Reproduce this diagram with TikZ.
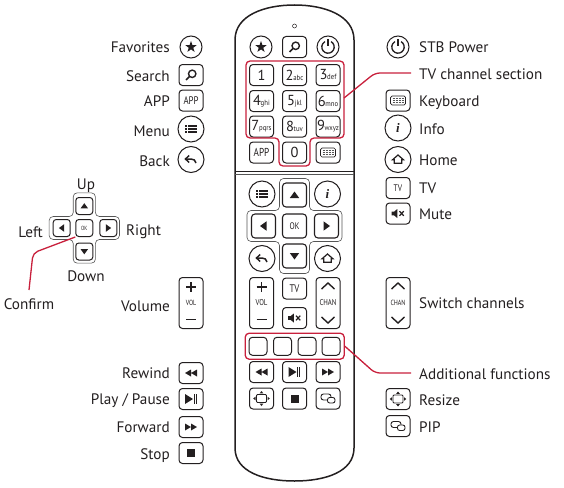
\documentclass[tikz,border=0pt]{standalone}
\usepackage{graphicx}
\usepackage{fontspec}
\setmainfont{PT Sans}
\newfontfamily\infofont{Liberation Serif}
\usepackage{tikz}
\usetikzlibrary{positioning}

\definecolor{keyline}{HTML}{231F20}
\definecolor{padline}{HTML}{555555}
\definecolor{markred}{HTML}{C8203C}

\newcommand{\keylabel}[2]{\fontsize{#1}{#1}\selectfont\scalebox{.8}[1]{#2}}
\newcommand{\keydigit}[2]{{\fontsize{14.5}{14}\selectfont #1}\kern-.3pt{\fontsize{7.5}{7}\selectfont\scalebox{.9}[1]{#2}}}

\tikzset{
  key/.style={draw=keyline, line width=1pt, rounded corners=3.5pt, minimum width=24pt, minimum height=21pt, inner sep=0pt, text=keyline},
  tallkey/.style={key, minimum height=51pt},
  padkey/.style={key, line width=1.1pt, minimum height=24pt},
  minikey/.style={key, minimum width=17pt, minimum height=17pt, rounded corners=3pt},
  blankkey/.style={key, minimum width=18pt, minimum height=18pt},
  smallcirc/.style={draw=keyline, line width=1pt, circle, minimum size=22pt, inner sep=0pt, text=keyline},
  bigcirc/.style={smallcirc, minimum size=26pt},
  lefttext/.style={anchor=east, inner sep=0pt, text=keyline, font=\fontsize{15.2}{15}\selectfont, text height=10pt, text depth=3pt},
  righttext/.style={lefttext, anchor=west},
  redline/.style={draw=markred, line width=1.3pt},
  redbox/.style={redline, rounded corners=4pt, minimum width=99pt, minimum height=26pt},
  glyph/.style={fill=keyline, draw=none},
  stroke/.style={draw=keyline, line width=1.1pt},
  pics/staricon/.style={code={\fill[glyph] (0,-6) -- (1.41,-1.94) -- (5.7,-1.85) -- (2.28,.74) -- (3.53,4.85) -- (0,2.4) -- (-3.53,4.85) -- (-2.28,.74) -- (-5.7,-1.85) -- (-1.41,-1.94) -- cycle;}},
  pics/searchicon/.style={code={
    \draw[stroke, line width=1.4pt] (1.2,-1.2) circle (3.7);
    \draw[stroke, line width=1.7pt] (-1.5,1.5) -- (-5,5);}},
  pics/powericon/.style={code={
    \draw[stroke, line width=1.3pt] (3.1,-5.37) arc[start angle=-60, end angle=240, radius=6.2];
    \draw[stroke, line width=1.3pt] (0,-7.5) -- (0,-.5);}},
  pics/kbicon/.style={code={
    \draw[stroke, line width=.7pt, rounded corners=1.5pt] (-7.5,-4.5) rectangle (7.5,4.5);
    \foreach \yy in {-2.2,0,2.2}
      \draw[padline, line width=1.2pt, dash pattern=on 1pt off .5pt] (-5.5,\yy) -- (5.5,\yy);}},
  pics/menuicon/.style={code={
    \foreach \yy in {-3.2,0,3.2} {
      \draw[stroke, line width=1.6pt] (-6,\yy) -- (-4.4,\yy);
      \draw[stroke, line width=1.6pt] (-3,\yy) -- (6,\yy);}}},
  pics/homeicon/.style={code={\draw[stroke, line width=1.2pt, line join=miter] (-5.5,.3) -- (0,-4.5) -- (5.5,.3) -- (3.7,.3) -- (3.7,3.8) -- (-3.7,3.8) -- (-3.7,.3) -- cycle;}},
  pics/backicon/.style={code={
    \draw[stroke, line width=1.5pt] (-5.5,-.5) -- (0,-.5) .. controls (2.8,-.5) and (4.5,.8) .. (5,3.5);
    \draw[stroke, line width=1.5pt] (-1.8,-4) -- (-5.5,-.5) -- (-1.8,3);}},
  pics/upicon/.style={code={\fill[glyph] (-4.7,3) -- (4.7,3) -- (0,-3.5) -- cycle;}},
  pics/downicon/.style={code={\fill[glyph] (-4.7,-3) -- (4.7,-3) -- (0,3.5) -- cycle;}},
  pics/lefticon/.style={code={\fill[glyph] (3,-4.7) -- (3,4.7) -- (-3.5,0) -- cycle;}},
  pics/righticon/.style={code={\fill[glyph] (-3,-4.7) -- (-3,4.7) -- (3.5,0) -- cycle;}},
  pics/muteicon/.style={code={
    \fill[glyph] (-6.5,-1.8) -- (-4,-1.8) -- (-.7,-4.5) -- (-.7,4.5) -- (-4,1.8) -- (-6.5,1.8) -- cycle;
    \draw[stroke, line width=1.2pt] (1.5,-2.3) -- (5.8,2.3) (1.5,2.3) -- (5.8,-2.3);}},
  pics/volicon/.style={code={
    \draw[stroke, line width=1.4pt] (-5,-16) -- (5,-16) (0,-21) -- (0,-11);
    \draw[stroke, line width=1.4pt] (-5,16.5) -- (5,16.5);}},
  pics/chanicon/.style={code={
    \draw[stroke, line width=1.4pt] (-6.5,-14) -- (0,-20) -- (6.5,-14);
    \draw[stroke, line width=1.4pt] (-6.5,14) -- (0,20) -- (6.5,14);}},
  pics/rewindicon/.style={code={\fill[glyph] (0,-3.5) -- (0,3.5) -- (-6,0) -- cycle (6,-3.5) -- (6,3.5) -- (0,0) -- cycle;}},
  pics/forwardicon/.style={code={\fill[glyph] (0,-3.5) -- (0,3.5) -- (6,0) -- cycle (-6,-3.5) -- (-6,3.5) -- (0,0) -- cycle;}},
  pics/playicon/.style={code={
    \fill[glyph] (-6,-5) -- (-6,5) -- (2,0) -- cycle;
    \draw[stroke, line width=.8pt] (3,-5) -- (3,5) (5.2,-5) -- (5.2,5);}},
  pics/stopicon/.style={code={\fill[glyph] (-4,-4) rectangle (4,4);}},
  pics/resizeicon/.style={code={
    \draw[stroke, line width=.8pt, rounded corners=1pt] (-5,-4) rectangle (5,4);
    \fill[glyph] (-1.8,-5.2) -- (1.8,-5.2) -- (0,-7.5) -- cycle (-1.8,5.2) -- (1.8,5.2) -- (0,7.5) -- cycle;
    \fill[glyph] (-6,-1.8) -- (-6,1.8) -- (-8.3,0) -- cycle (6,-1.8) -- (6,1.8) -- (8.3,0) -- cycle;}},
  pics/pipicon/.style={code={
    \draw[stroke, line width=.9pt, rounded corners=2.5pt] (-7,-4.5) rectangle (3,1.5);
    \draw[stroke, line width=.9pt, rounded corners=2.2pt, fill=white] (-.5,-1) rectangle (7,4.5);}},
  pics/crossline/.style={code={
    \draw[padline, line width=.6pt, rounded corners=4pt] (0,-47.5) -- (15,-47.5) -- (15,-15.5) -- (47.5,-15.5) -- (47.5,15.5) -- (15,15.5) -- (15,47.5) -- (-15,47.5) -- (-15,15.5) -- (-47.5,15.5) -- (-47.5,-15.5) -- (-15,-15.5) -- (-15,-47.5) -- cycle;}}
}

\begin{document}
\begin{tikzpicture}[x=1pt, y=-1pt]
  \useasboundingbox (0,0) rectangle (564,487);

  \draw[keyline, line width=1.5pt] (235,40) .. controls (235,15) and (265,5) .. (294.5,5)
    .. controls (324,5) and (354,15) .. (354,40) -- (354,448)
    .. controls (354,472) and (325,481) .. (294.5,481)
    .. controls (264,481) and (235,472) .. (235,448) -- cycle;
  \draw[keyline, line width=.5pt] (294.5,26) circle (2);
  \draw[keyline, line width=.8pt] (235,171) -- (354,171);
  \draw[padline, line width=.6pt] (235,174.5) -- (354,174.5);
  \pic at (294.5,226) {crossline};
  \pic[scale=.74] at (84.3,228) {crossline};

  \foreach \st/\nm/\xx/\yy/\ic in {
    smallcirc/favkey/191/47/staricon, key/searchkey/191/75/searchicon,
    bigcirc/menukey/191/129/menuicon, bigcirc/backkey/191/159.5/backicon,
    key/rewindkey/191/373/rewindicon, key/playkey/191/399/playicon,
    key/forwardkey/191/427/forwardicon, key/stopkey/191/453/stopicon,
    smallcirc/powerkey/398/47/powericon, key/kbkey/398/100.5/kbicon,
    bigcirc/homekey/398/159.5/homeicon, key/mutekey/398/213.5/muteicon,
    key/resizekey/398/399/resizeicon, key/pipkey/398/426/pipicon,
    smallcirc/favbody/261/47/staricon, key/searchbody/294.5/47/searchicon,
    smallcirc/powerbody/328/47/powericon, key/kbbody/328/152.5/kbicon,
    bigcirc/menubody/262/194/menuicon, bigcirc/backbody/262/258.5/backicon,
    bigcirc/homebody/327.5/258.5/homeicon,
    padkey/upbody/294.5/195/upicon, padkey/downbody/294.5/256/downicon,
    padkey/leftbody/263.5/226/lefticon, padkey/rightbody/326.5/226/righticon,
    key/mutebody/294.5/318/muteicon,
    key/rewindbody/261.5/372/rewindicon, key/playbody/294.5/372/playicon,
    key/forwardbody/328/372/forwardicon, key/resizebody/261.5/398.5/resizeicon,
    key/stopbody/294.5/398.5/stopicon, key/pipbody/328/398.5/pipicon} {
    \node[\st] (\nm) at (\xx,\yy) {};
    \pic at (\nm) {\ic};
  }

  \foreach \nm/\xx/\yy/\ic in {upmini/84.3/206/upicon, downmini/84.3/251.5/downicon,
    leftmini/61.7/228/lefticon, rightmini/108.3/228/righticon} {
    \node[minikey] (\nm) at (\xx,\yy) {};
    \pic[scale=.8] at (\nm) {\ic};
  }
  \node[minikey] (okmini) at (84.3,228) {\keylabel{6}{OK}};

  \foreach \nm/\xx/\yy/\txt in {
    keyone/261.5/75/\keydigit{1}{}, keytwo/294.5/75/\keydigit{2}{abc}, keythree/328/75/\keydigit{3}{def},
    keyfour/261.5/101/\keydigit{4}{ghi}, keyfive/294.5/101/\keydigit{5}{jkl}, keysix/328/101/\keydigit{6}{mno},
    keyseven/261.5/126.5/\keydigit{7}{pqrs}, keyeight/294.5/126.5/\keydigit{8}{tuv}, keynine/328/126.5/\keydigit{9}{wxyz},
    keyzero/294.5/152.5/\keydigit{0}{}, appbody/261.5/152.5/\keylabel{11.5}{APP},
    appkey/191/100.5/\keylabel{11}{APP}, tvkey/398/188/\keylabel{9.5}{TV}, tvbody/294.5/288.5/\keylabel{11}{TV}} {
    \node[key] (\nm) at (\xx,\yy) {\txt};
  }
  \node[padkey] (okbody) at (294.5,226) {\keylabel{9.5}{OK}};
  \node[bigcirc] (infokey) at (398,128) {\fontsize{13}{13}\infofont\bfseries\itshape i};
  \node[bigcirc] (infobody) at (327.5,194) {\fontsize{13}{13}\infofont\bfseries\itshape i};

  \foreach \nm/\xx/\txt/\ic in {volkey/191/\keylabel{7.5}{VOL}/volicon, volbody/261.5/\keylabel{8.5}{VOL}/volicon,
    chanbody/328/\keylabel{8.5}{CHAN}/chanicon} {
    \node[tallkey] (\nm) at (\xx,303) {\txt};
    \pic at (\nm) {\ic};
  }
  \node[tallkey] (chankey) at (398,303) {\keylabel{7.5}{CHAN}};
  \pic at (chankey) {chanicon};

  \foreach \nm/\xx in {blankone/258, blanktwo/282.5, blankthree/307, blankfour/331} {
    \node[blankkey] (\nm) at (\xx,346.3) {};
  }

  \foreach \nm/\yy/\txt in {favtext/48.7/Favorites, searchtext/77.7/Search, apptext/102.7/APP, menutext/132.7/Menu,
    backtext/162.7/Back, voltext/307.7/Volume, rewindtext/374.7/Rewind, playtext/400.7/{Play / Pause},
    forwardtext/428.7/Forward, stoptext/455.7/Stop} {
    \node[lefttext] (\nm) at (170,\yy) {\txt};
  }
  \foreach \nm/\yy/\txt in {powertext/48.7/STB Power, sectiontext/75.7/TV channel section, kbtext/102.7/Keyboard,
    infotext/130.7/Info, hometext/161.7/Home, tvtext/189.7/TV, mutetext/215.7/Mute, switchtext/304.7/Switch channels,
    addtext/375.7/Additional functions, resizetext/401.7/Resize, piptext/428.7/PIP} {
    \node[righttext] (\nm) at (419,\yy) {\txt};
  }
  \node[lefttext, anchor=center] (uptext) at (86,185.7) {Up};
  \node[lefttext, anchor=center] (downtext) at (86,277.7) {Down};
  \node[lefttext] (lefttxt) at (43,233.7) {Left};
  \node[righttext] (righttxt) at (126,231.7) {Right};
  \node[lefttext, anchor=center] (confirmtext) at (29,305.7) {Confirm};

  \coordinate (numpadend) at (344,98);
  \coordinate (numpadbend) at (375,73);
  \coordinate (sectionend) at (411,73);
  \coordinate (addbend) at (375,373);
  \coordinate (addend) at (411,373);
  \coordinate (confirmend) at (29,290);
  \coordinate (confirmbend) at (33,253);

  \draw[redline, rounded corners=4pt] (295,61) -- (344,61) -- (344,138) -- (310,138) -- (310,166)
    -- (279,166) -- (279,138) -- (246,138) -- (246,61) -- cycle;
  \node[redbox, draw] (addbox) at (294.7,346.2) {};
  \draw[redline, rounded corners=5pt] (numpadend) -- (numpadbend) -- (sectionend);
  \draw[redline, rounded corners=5pt] (addbox.east) -- (addbend) -- (addend);
  \draw[redline, rounded corners=5pt] (confirmend) -- (confirmbend) -- (okmini.south west);
\end{tikzpicture}
\end{document}
